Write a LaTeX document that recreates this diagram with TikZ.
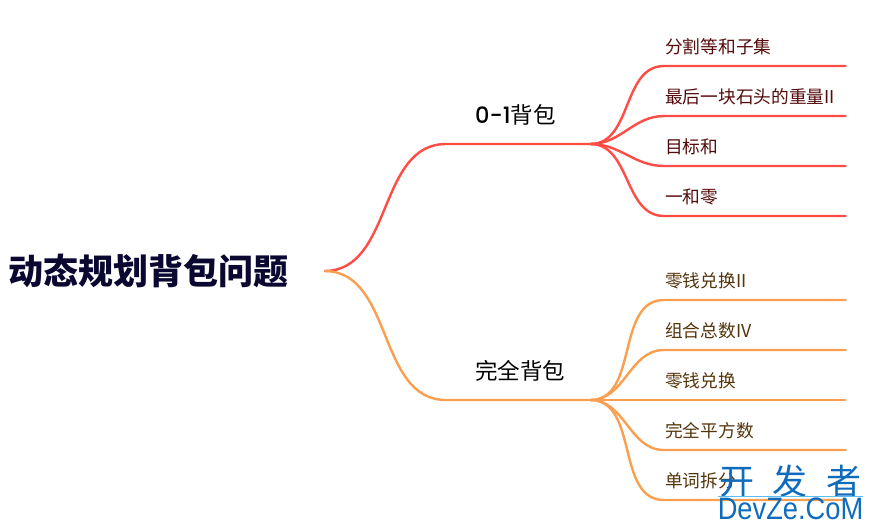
\documentclass[tikz,border=0pt]{standalone}
\usepackage{xcolor}
\usepackage{fontspec}
\setmainfont{Noto Sans CJK SC}
\newfontfamily\latinfont[UprightFont=* Medium]{Poppins}
\newfontfamily\markfont[FakeStretch=0.88]{Liberation Sans}
\definecolor{linered}{RGB}{255,77,69}
\definecolor{lineorange}{RGB}{250,158,79}
\definecolor{rootink}{RGB}{10,8,48}
\definecolor{leafred}{RGB}{84,10,10}
\definecolor{leaforange}{RGB}{84,52,10}
\definecolor{markblue}{RGB}{15,108,189}
\definecolor{markline}{RGB}{90,190,240}
\begin{document}
\begin{tikzpicture}[x=1pt, y=-1pt,
        root/.style={inner sep=0pt, anchor=west, text width=324pt, minimum height=40pt, align=left, text=rootink, font=\fontsize{35}{40}\selectfont\bfseries, execute at begin node={\hspace*{8pt}}},
        branch/.style={inner sep=0pt, anchor=south west, text width=144pt, minimum height=58pt, align=left, text=black, font=\fontsize{22.5}{26}\selectfont, execute at begin node={\hspace*{29pt}}},
        leaf/.style={inner sep=0pt, anchor=south west, text width=182pt, minimum height=38.5pt, align=left, font=\fontsize{17.7}{20}\selectfont, execute at begin node={\hspace*{1pt}}},
        leafa/.style={leaf, text=leafred},
        leafb/.style={leaf, text=leaforange},
        linea/.style={linered, line width=2.4pt},
        lineb/.style={lineorange, line width=2.4pt},
        wmark/.style={inner sep=0pt, minimum width=143pt, text=markblue}]

        \useasboundingbox (0,0) rectangle (874,531);

        \node[root] (title) at (0,271) {动态规划背包问题};
        \node[branch] (zeroone) at (446,144) {{\latinfont 0-1}背包};
        \node[branch] (complete) at (446,400) {完全背包};

        \node[leafa] (partition) at (664,66) {分割等和子集};
        \node[leafa] (stone) at (664,116) {最后一块石头的重量II};
        \node[leafa] (target) at (664,166) {目标和};
        \node[leafa] (onezero) at (664,216) {一和零};

        \node[leafb] (coinstwo) at (664,300) {零钱兑换II};
        \node[leafb] (comb) at (664,350) {组合总数IV};
        \node[leafb] (coins) at (664,400) {零钱兑换};
        \node[leafb] (squares) at (664,450) {完全平方数};
        \node[leafb] (wordbreak) at (664,500) {单词拆分};

        \draw[linea] (title.east) to[out=0, in=180] (zeroone.south west) -- (zeroone.south east);
        \draw[lineb] (title.east) to[out=0, in=180] (complete.south west) -- (complete.south east);

        \draw[linea] (zeroone.south east) to[out=0, in=180] (partition.south west) -- (partition.south east);
        \draw[linea] (zeroone.south east) to[out=0, in=180] (stone.south west) -- (stone.south east);
        \draw[linea] (zeroone.south east) to[out=0, in=180] (target.south west) -- (target.south east);
        \draw[linea] (zeroone.south east) to[out=0, in=180] (onezero.south west) -- (onezero.south east);

        \draw[lineb] (complete.south east) to[out=0, in=180] (coinstwo.south west) -- (coinstwo.south east);
        \draw[lineb] (complete.south east) to[out=0, in=180] (comb.south west) -- (comb.south east);
        \draw[lineb] (complete.south east) -- (coins.south west) -- (coins.south east);
        \draw[lineb] (complete.south east) to[out=0, in=180] (squares.south west) -- (squares.south east);
        \draw[lineb] (complete.south east) to[out=0, in=180] (wordbreak.south west) -- (wordbreak.south east);

        \node[wmark, font=\fontsize{35}{38}\selectfont] (markcn) at (790.5,481) {开\hspace{19pt}发\hspace{19pt}者};
        \node[wmark, minimum height=24pt, font=\markfont\fontsize{31}{34}\selectfont] (markurl) at (790.5,509) {DevZe.CoM};
        \draw[markline, line width=0.8pt] (markurl.north west) -- (markurl.north east);

    \end{tikzpicture}
\end{document}
